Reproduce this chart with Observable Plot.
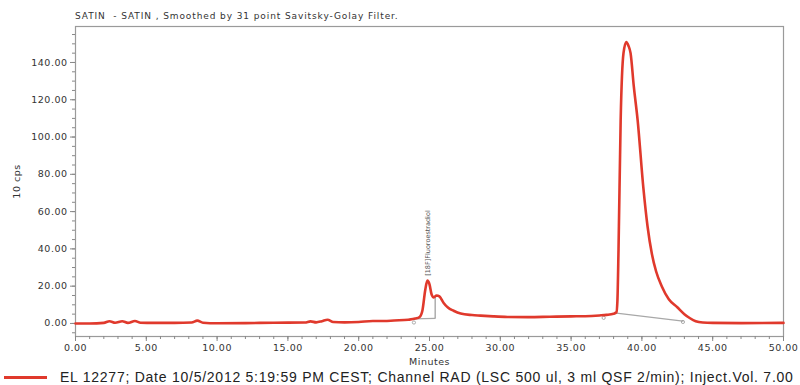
<!DOCTYPE html>
<html>
<head>
<meta charset="utf-8">
<script src="https://cdn.jsdelivr.net/npm/d3@7"></script>
<script src="https://cdn.jsdelivr.net/npm/@observablehq/plot@0.6"></script>
<style>
  html, body { margin: 0; padding: 0; background: #fff; }
  #wrap { position: relative; width: 800px; height: 385px; overflow: hidden; }
  #title { position: absolute; left: 75px; top: 11px; font: 9px "DejaVu Sans", sans-serif; color: #333; letter-spacing: 0.9px; white-space: pre; }
  #legend { position: absolute; left: 4px; top: 369px; font: 14px "Liberation Sans", Arial, sans-serif; color: #222; white-space: pre; display: flex; align-items: center; letter-spacing: 0.75px; }
  #legend .sw { display: inline-block; width: 43px; height: 3px; background: #e0392c; margin-right: 13px; }
  svg text { letter-spacing: 0.5px; }
  svg .peak text { letter-spacing: 0; }
</style>
</head>
<body>
<div id="wrap">
  <div id="title"></div>
  <div id="chart"></div>
  <div id="legend"><span class="sw"></span><span id="legtext"></span></div>
</div>
<script>
const titleText = "SATIN  - SATIN , Smoothed by 31 point Savitsky-Golay Filter.";
const legendText = "EL 12277; Date 10/5/2012 5:19:59 PM CEST; Channel RAD (LSC 500 ul, 3 ml QSF 2/min); Inject.Vol. 7.00";
const xLabel = "Minutes";
const yLabel = "10 cps";
const peakLabel = "[18F]Fluoroestradiol";

const minutes = [0, 1, 2, 2.4, 2.8, 3.3, 3.7, 4.2, 4.6, 5.5, 7, 8.2, 8.6, 9.0, 10, 12, 14, 16.2, 16.6, 17.0, 17.4, 17.8, 18.2, 19, 20, 21, 21.8, 22.5, 23.5, 24.0, 24.3, 24.5, 24.7, 24.85, 25.0, 25.15, 25.3, 25.5, 25.7, 26.0, 26.3, 26.7, 27.2, 28.0, 28.6, 29.5, 30.5, 32, 33.5, 35, 36, 37, 37.5, 38.0, 38.2, 38.27, 38.35, 38.5, 38.7, 38.9, 39.05, 39.2, 39.43, 39.7, 40.1, 40.4, 40.7, 41.0, 41.4, 41.9, 42.5, 43.0, 43.4, 43.8, 44.3, 45, 47, 50];
const cps = [0, 0, 0.3, 1.2, 0.4, 1.2, 0.3, 1.3, 0.4, 0.3, 0.3, 0.5, 1.5, 0.4, 0.1, 0.2, 0.4, 0.5, 1.1, 0.6, 1.2, 2.0, 0.8, 0.6, 0.8, 1.3, 1.3, 1.6, 2.0, 2.6, 3.5, 7, 18, 23, 21, 15.5, 14, 15, 14.5, 11, 8.5, 6.8, 5.3, 4.5, 4.2, 3.8, 3.5, 3.4, 3.6, 3.8, 3.9, 4.3, 4.6, 5.2, 6, 12, 40, 109, 145, 151, 149, 145, 127, 109, 73, 52, 37.5, 28, 20, 13, 8.7, 5, 2.8, 1.2, 0.5, 0.3, 0.2, 0.3];

// integration baselines (start/end time and level)
const baseMin = [[23.9, 25.4], [38.2, 42.9]];
const baseVal = [[2.5, 2.7], [5.5, 1.2]];
const dropMin = [25.4];
const dropTop = [14.5];
const dropBottom = [2.7];
const markerMin = [23.9, 37.3, 42.9];
const markerVal = [0.5, 3.0, 0.8];
const peakMin = [24.9];
const peakVal = [25];

const xTicks = d3.range(0, 51, 5);
const xMinor = d3.range(0, 51, 1);
const yTicks = d3.range(0, 141, 20);
const yMinor = d3.range(-5, 160, 5);

const trace = minutes.map((m, i) => ({m, v: cps[i]}));
const baseSegs = baseMin.flatMap((pair, k) => pair.map((m, j) => ({m, v: baseVal[k][j], k})));
const drops = dropMin.map((m, i) => ({m, y1: dropBottom[i], y2: dropTop[i]}));
const markers = markerMin.map((m, i) => ({m, v: markerVal[i]}));
const peaks = peakMin.map((m, i) => ({m, v: peakVal[i], t: peakLabel}));

document.getElementById("title").textContent = titleText;
document.getElementById("legtext").textContent = legendText;

const fmt = d3.format(".2f");
const chart = Plot.plot({
  width: 800,
  height: 385,
  marginTop: 26,
  marginLeft: 75,
  marginRight: 17,
  marginBottom: 49,
  style: {fontFamily: "DejaVu Sans, sans-serif", fontSize: "9.5px", color: "#333", background: "#fff"},
  x: {domain: [0, 50]},
  y: {domain: [-7, 159.3]},
  marks: [
    Plot.frame({stroke: "#9a9a9a", strokeWidth: 1.2}),
    Plot.axisX({ticks: xMinor, tickFormat: null, tickSize: 3, stroke: "#888", text: null, label: null}),
    Plot.axisX({ticks: xTicks, tickFormat: fmt, tickSize: 5, tickPadding: 3, stroke: "#888", fill: "#333", label: xLabel, labelAnchor: "center", labelArrow: "none", labelOffset: 28}),
    Plot.axisY({ticks: yMinor, tickSize: 3, stroke: "#888", text: null, label: null}),
    Plot.axisY({ticks: yTicks, tickFormat: fmt, tickSize: 5, tickPadding: 3, stroke: "#888", fill: "#333", label: yLabel, labelAnchor: "center", labelArrow: "none", labelOffset: 62}),
    Plot.line(baseSegs, {x: "m", y: "v", z: "k", stroke: "#a8a8a8", strokeWidth: 1.2}),
    Plot.ruleX(drops, {x: "m", y1: "y1", y2: "y2", stroke: "#999", strokeWidth: 1.2}),
    Plot.dot(markers, {x: "m", y: "v", r: 1.6, stroke: "#999", strokeWidth: 0.8}),
    Plot.line(trace, {x: "m", y: "v", stroke: "#e0392c", strokeWidth: 2.6, curve: "monotone-x"}),
    Plot.text(peaks, {x: "m", y: "v", text: "t", rotate: -90, textAnchor: "start", fontSize: 6.5, fill: "#555", dy: -1, className: "peak"})
  ]
});
document.getElementById("chart").appendChild(chart);
</script>
</body>
</html>
